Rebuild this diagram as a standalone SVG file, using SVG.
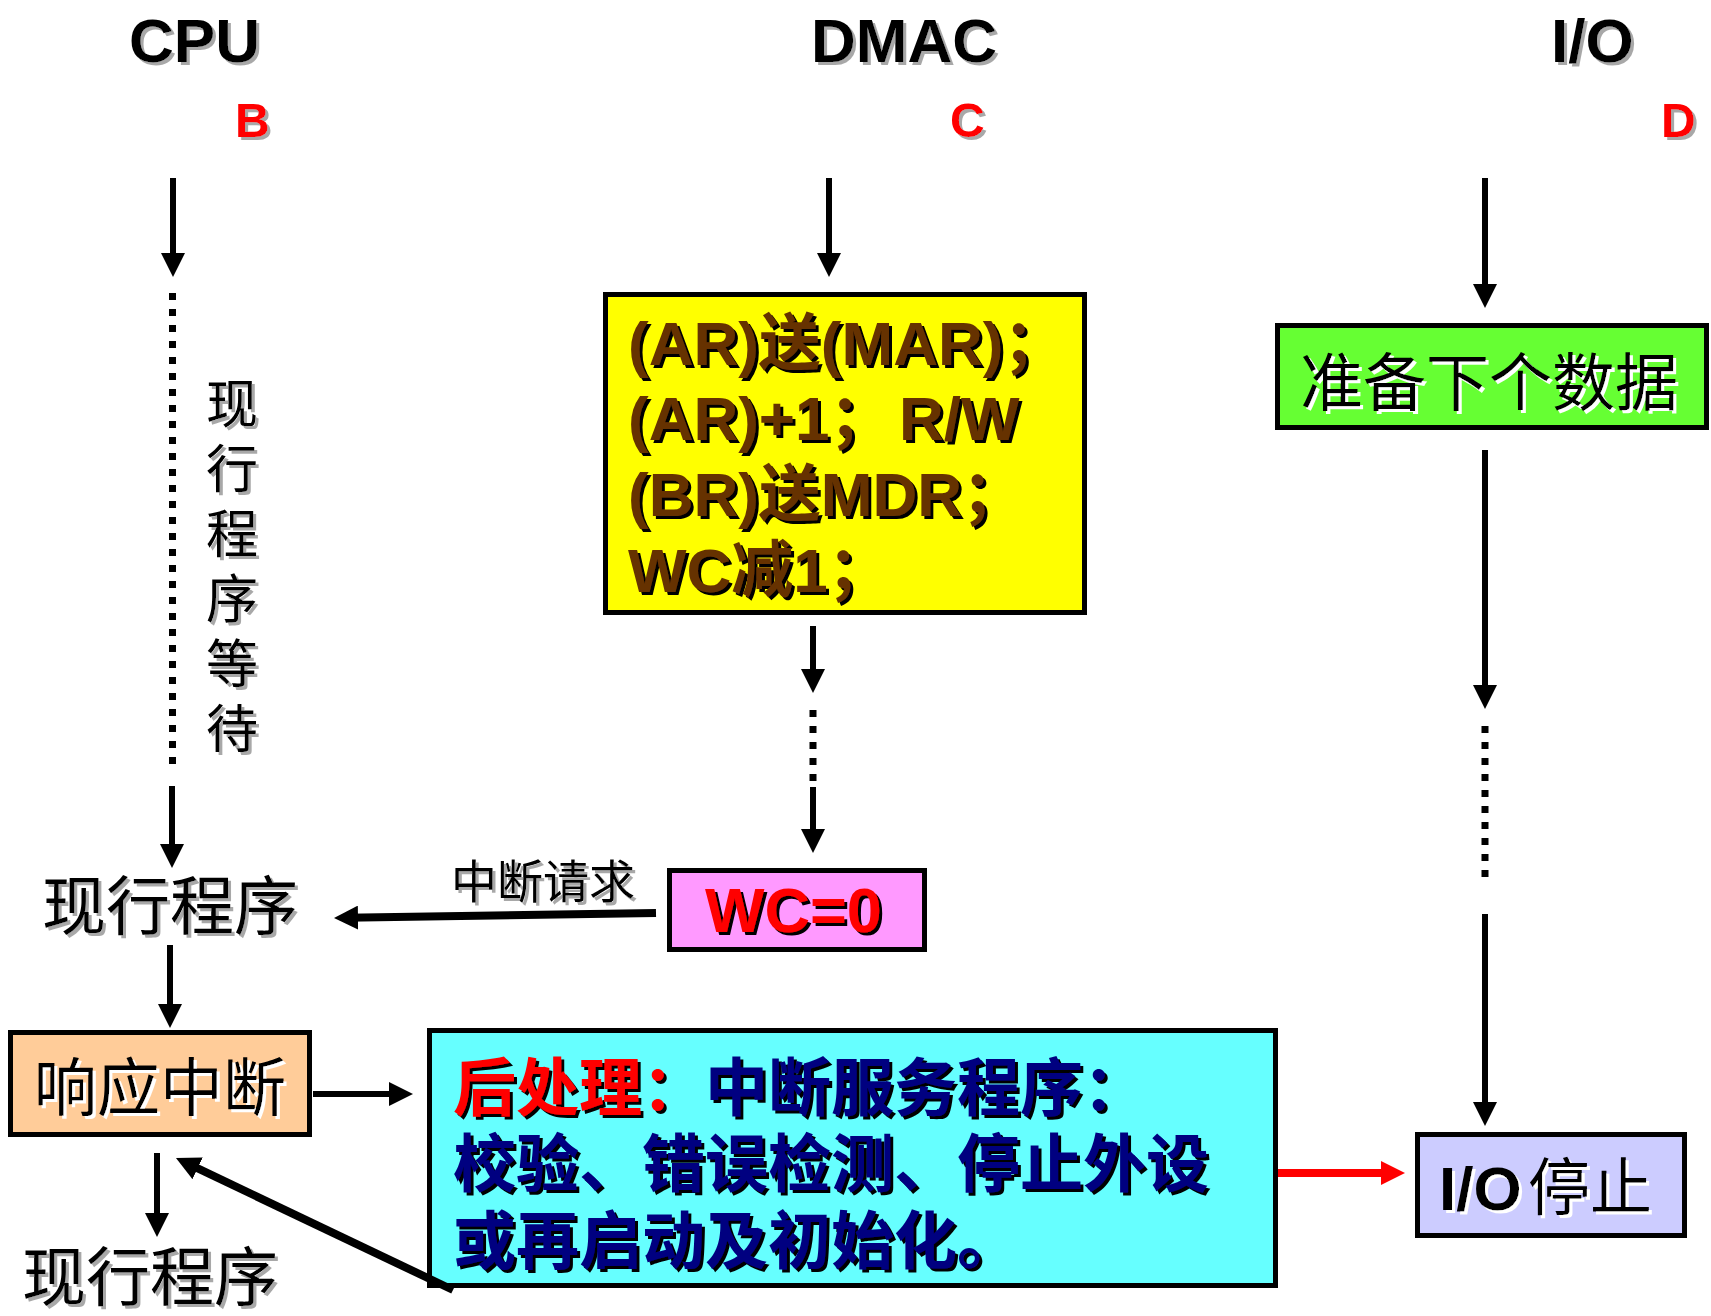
<svg xmlns="http://www.w3.org/2000/svg" width="1711" height="1316" viewBox="0 0 1711 1316">
<defs>
<style>
.lat{font-family:"Liberation Sans","Noto Sans CJK SC",sans-serif;font-weight:bold}
.cjk{font-family:"Noto Sans CJK SC","Liberation Sans",sans-serif;font-weight:400}
.cjkb{font-family:"Liberation Sans","Noto Sans CJK SC",sans-serif;font-weight:bold}
.box{stroke:#000;stroke-width:5}
.ln{stroke:#000;stroke-width:6;fill:none}
.dot{stroke:#000;stroke-width:7;fill:none;stroke-dasharray:7 9}
</style>
<filter id="sg" x="-10%" y="-20%" width="130%" height="150%"><feDropShadow dx="3" dy="3" stdDeviation="0.5" flood-color="#a8a8a8" flood-opacity="1"/></filter>
<filter id="sk" x="-10%" y="-20%" width="130%" height="150%"><feDropShadow dx="3" dy="3" stdDeviation="0.4" flood-color="#000" flood-opacity="1"/></filter>
<filter id="sw" x="-10%" y="-20%" width="130%" height="150%"><feDropShadow dx="3" dy="3" stdDeviation="0.3" flood-color="#fff" flood-opacity="1"/></filter>
<marker id="ah" viewBox="0 0 24 24" refX="12" refY="12" markerWidth="24" markerHeight="24" markerUnits="userSpaceOnUse" orient="auto"><path d="M0,0L24,12L0,24z" fill="#000"/></marker>
<marker id="ahr" viewBox="0 0 24 24" refX="12" refY="12" markerWidth="24" markerHeight="24" markerUnits="userSpaceOnUse" orient="auto"><path d="M0,0L24,12L0,24z" fill="#f00"/></marker>
</defs>
<rect width="1711" height="1316" fill="#fff"/>

<g id="headers">
<text class="lat" x="129" y="62" font-size="62" fill="#000" filter="url(#sg)">CPU</text>
<text class="lat" x="811" y="62" font-size="62" fill="#000" filter="url(#sg)">DMAC</text>
<text class="lat" x="1551" y="62" font-size="62" fill="#000" filter="url(#sg)">I/O</text>
<text class="lat" x="235" y="137" font-size="48" fill="#f00" filter="url(#sg)">B</text>
<text class="lat" x="950" y="137" font-size="48" fill="#f00" filter="url(#sg)">C</text>
<text class="lat" x="1661" y="137" font-size="48" fill="#f00" filter="url(#sg)">D</text>
</g>

<g id="wait-label">
<text class="cjk" x="232" y="377" font-size="52" fill="#000" writing-mode="vertical-rl" letter-spacing="13" filter="url(#sg)">现行程序等待</text>
</g>

<g id="dmac-ops">
<rect class="box" x="605.5" y="294.5" width="479" height="318" fill="#ffff00"/>
<text class="lat" font-size="62" fill="#663300" filter="url(#sk)">
<tspan x="628" y="365">(AR)送(MAR)；</tspan>
<tspan x="628" y="440">(AR)+1；</tspan><tspan x="899" y="440">R/W</tspan>
<tspan x="628" y="516">(BR)送MDR；</tspan>
<tspan x="628" y="592">WC减1；</tspan>
</text>
</g>

<g id="prep-data">
<rect class="box" x="1277.5" y="325.5" width="429" height="102" fill="#66ff33"/>
<text class="cjk" x="1300" y="405" font-size="63" fill="#000" filter="url(#sw)">准备下个数据</text>
</g>

<g id="cur-prog-1">
<text class="cjk" x="42" y="929" font-size="64" fill="#000" filter="url(#sg)">现行程序</text>
</g>

<g id="irq-label">
<text class="cjk" x="451" y="898" font-size="46" fill="#000" filter="url(#sg)">中断请求</text>
</g>

<g id="wc-zero">
<rect class="box" x="669.5" y="870.5" width="255" height="79" fill="#ff99ff"/>
<text class="lat" x="705" y="932" font-size="63" fill="#f00" filter="url(#sk)">WC=0</text>
</g>

<g id="ack-int">
<rect class="box" x="10.5" y="1032.5" width="299" height="102" fill="#ffcc99"/>
<text class="cjk" x="34" y="1110" font-size="63" fill="#000" filter="url(#sw)">响应中断</text>
</g>

<g id="post-proc">
<rect class="box" x="429.5" y="1030.5" width="846" height="255" fill="#66ffff"/>
<text class="cjkb" font-size="63" filter="url(#sk)">
<tspan x="453" y="1110" fill="#f00">后处理：</tspan><tspan fill="#000080">中断服务程序：</tspan>
<tspan x="453" y="1186" fill="#000080">校验、错误检测、停止外设</tspan>
<tspan x="453" y="1263" fill="#000080">或再启动及初始化。</tspan>
</text>
</g>

<g id="io-stop">
<rect class="box" x="1417.5" y="1134.5" width="267" height="101" fill="#ccccff"/>
<text x="1439" y="1210" font-size="62" fill="#000" filter="url(#sw)"><tspan class="lat">I/O</tspan><tspan class="cjk" x="1528">停止</tspan></text>
</g>

<g id="cur-prog-2">
<text class="cjk" x="22" y="1300" font-size="64" fill="#000" filter="url(#sg)">现行程序</text>
</g>

<g id="connectors">
<line class="ln" x1="173" y1="178" x2="173" y2="265" marker-end="url(#ah)"/>
<line class="dot" x1="172.5" y1="293" x2="172.5" y2="766"/>
<line class="ln" x1="172" y1="786" x2="172" y2="856" marker-end="url(#ah)"/>
<line class="ln" x1="170" y1="945" x2="170" y2="1016" marker-end="url(#ah)"/>
<line class="ln" x1="313" y1="1094" x2="401" y2="1094" marker-end="url(#ah)"/>
<line class="ln" x1="157" y1="1153" x2="157" y2="1225" marker-end="url(#ah)"/>
<line class="ln" style="stroke-width:8" x1="453" y1="1290" x2="186.8" y2="1163.2" marker-end="url(#ah)"/>
<line class="ln" style="stroke-width:8" x1="656" y1="913" x2="346" y2="917.8" marker-end="url(#ah)"/>
<line class="ln" x1="829" y1="178" x2="829" y2="265" marker-end="url(#ah)"/>
<line class="ln" x1="813" y1="626" x2="813" y2="681" marker-end="url(#ah)"/>
<line class="dot" x1="813" y1="710" x2="813" y2="782"/>
<line class="ln" x1="813" y1="787" x2="813" y2="841" marker-end="url(#ah)"/>
<line class="ln" x1="1485" y1="178" x2="1485" y2="296" marker-end="url(#ah)"/>
<line class="ln" x1="1485" y1="450" x2="1485" y2="697" marker-end="url(#ah)"/>
<line class="dot" x1="1485" y1="726" x2="1485" y2="877"/>
<line class="ln" x1="1485" y1="914" x2="1485" y2="1114" marker-end="url(#ah)"/>
<line class="ln" style="stroke:#f00;stroke-width:8" x1="1278" y1="1173" x2="1393" y2="1173" marker-end="url(#ahr)"/>
</g>
</svg>
